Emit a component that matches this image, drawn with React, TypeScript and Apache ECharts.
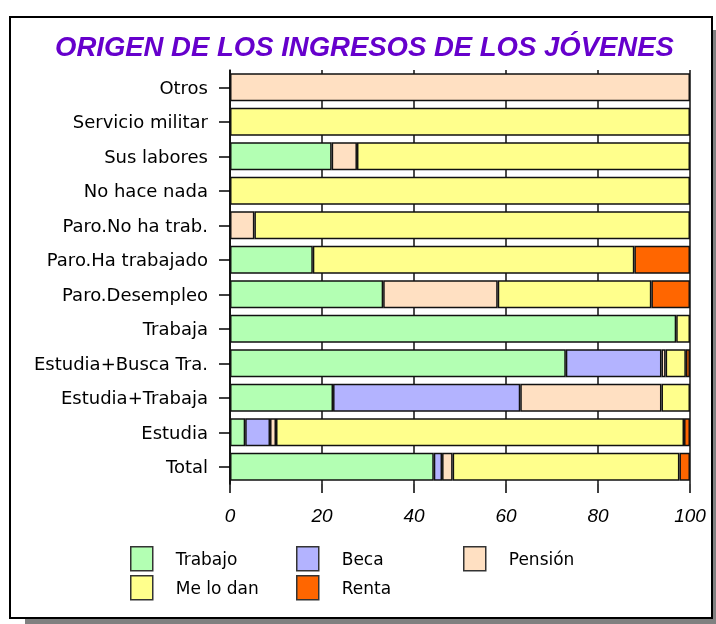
import React, { useEffect, useRef } from "react";
import * as echarts from "echarts";

const categories = [
  "Otros",
  "Servicio militar",
  "Sus labores",
  "No hace nada",
  "Paro.No ha trab.",
  "Paro.Ha trabajado",
  "Paro.Desempleo",
  "Trabaja",
  "Estudia+Busca Tra.",
  "Estudia+Trabaja",
  "Estudia",
  "Total",
];

const trabajo = [null, null, 22.1, null, null, 18.0, 33.3, 97.0, 73.0, 22.4, 3.3, 44.3];
const beca = [null, null, null, null, null, null, null, null, 20.8, 40.7, 5.4, 1.8];
const pension = [100, null, 5.5, null, 5.3, null, 24.9, null, 0.9, 30.7, 1.3, 2.3];
const meLoDan = [null, 100, 72.4, 100, 94.7, 69.9, 33.4, 3.0, 4.4, 6.2, 88.7, 49.3];
const renta = [null, null, null, null, null, 12.1, 8.4, null, 0.9, null, 1.3, 2.3];

const xTicks = { min: 0, max: 100, interval: 20 };

const seriesDefs = [
  { name: "Trabajo", data: trabajo, color: "#B3FFB3" },
  { name: "Beca", data: beca, color: "#B3B3FF" },
  { name: "Pensión", data: pension, color: "#FFE0C2" },
  { name: "Me lo dan", data: meLoDan, color: "#FFFF8C" },
  { name: "Renta", data: renta, color: "#FF6600" },
];

const legendPos = [
  { name: "Trabajo", left: 130, top: 546 },
  { name: "Beca", left: 296, top: 546 },
  { name: "Pensión", left: 463, top: 546 },
  { name: "Me lo dan", left: 130, top: 575 },
  { name: "Renta", left: 296, top: 575 },
];

const LABEL_FONT = "DejaVu Sans";

export default function App() {
  const ref = useRef<HTMLDivElement>(null);
  useEffect(() => {
    if (!ref.current) return;
    const chart = echarts.init(ref.current, null, { renderer: "svg" });
    chart.setOption({
      animation: false,
      backgroundColor: "transparent",
      title: {
        text: "ORIGEN DE LOS INGRESOS DE LOS JÓVENES",
        left: 55,
        top: 33,
        padding: 0,
        textStyle: {
          fontFamily: "Liberation Sans",
          fontSize: 27.5,
          fontWeight: "bold",
          fontStyle: "italic",
          color: "#6600CC",
        },
      },
      graphic: [
        {
          type: "rect",
          z: -100,
          shape: { x: 25, y: 30, width: 691, height: 594 },
          style: { fill: "#808080" },
        },
        {
          type: "rect",
          z: -99,
          shape: { x: 10, y: 17, width: 702, height: 601 },
          style: { fill: "#ffffff", stroke: "#000000", lineWidth: 2 },
        },
      ],
      legend: legendPos.map((l) => ({
        data: [l.name],
        left: l.left,
        top: l.top,
        padding: 0,
        icon: "rect",
        itemWidth: 22,
        itemHeight: 24,
        selectedMode: false,
        itemStyle: { borderColor: "#333", borderWidth: 1.5 },
        textStyle: {
          fontFamily: LABEL_FONT,
          fontSize: 17,
          color: "#000",
          padding: [0, 0, 0, 18],
        },
      })),
      grid: {
        left: 230,
        right: 26,
        top: 70,
        bottom: 140,
        containLabel: false,
        outerBoundsMode: "none",
      },
      xAxis: {
        type: "value",
        min: xTicks.min,
        max: xTicks.max,
        interval: xTicks.interval,
        axisLine: { show: false },
        axisTick: { show: true, length: 9, lineStyle: { color: "#000", width: 1.5 } },
        splitLine: { show: true, lineStyle: { color: "#111", width: 1.5 } },
        axisLabel: {
          margin: 22,
          fontFamily: "Liberation Sans",
          fontStyle: "italic",
          fontSize: 19,
          color: "#000",
        },
      },
      yAxis: {
        type: "category",
        inverse: true,
        data: categories,
        axisLine: { show: true, lineStyle: { color: "#000", width: 1.5 } },
        axisTick: {
          show: true,
          alignWithLabel: true,
          length: 11,
          lineStyle: { color: "#000", width: 1.5 },
        },
        splitLine: { show: false },
        axisLabel: {
          margin: 22,
          fontFamily: LABEL_FONT,
          fontSize: 18,
          color: "#000",
        },
      },
      series: seriesDefs.map((s) => ({
        name: s.name,
        type: "bar",
        stack: "total",
        barCategoryGap: "19%",
        data: s.data,
        itemStyle: { color: s.color, borderColor: "#111", borderWidth: 1.5 },
        emphasis: { disabled: true },
      })),
    });
    return () => chart.dispose();
  }, []);
  return (
    <div
      ref={ref}
      style={{ position: "fixed", left: 0, top: 0, width: 716, height: 624 }}
    />
  );
}
